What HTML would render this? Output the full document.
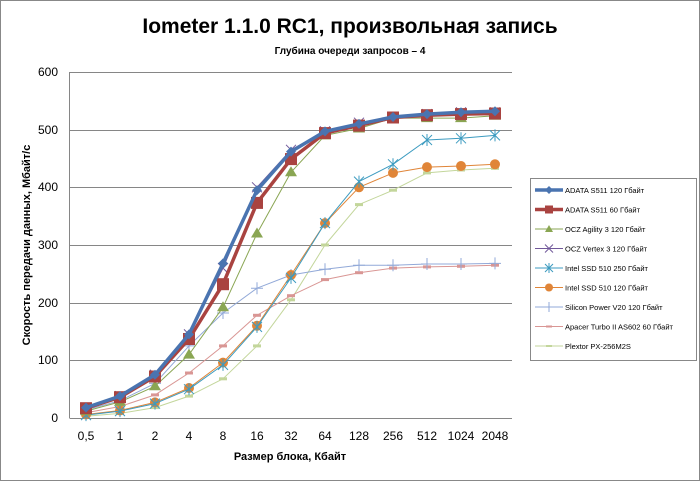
<!DOCTYPE html>
<html><head><meta charset="utf-8"><style>body{margin:0;background:#fff}svg{display:block}text{font-family:"Liberation Sans",sans-serif}</style></head><body>
<svg width="700" height="481" viewBox="0 0 700 481" xmlns="http://www.w3.org/2000/svg">
<defs>
<marker id="dia" markerUnits="userSpaceOnUse" markerWidth="12" markerHeight="12" refX="6" refY="6" overflow="visible"><path d="M6 1l5 5l-5 5l-5-5z" fill="#4a74b0"/></marker>
<marker id="sq" markerUnits="userSpaceOnUse" markerWidth="12" markerHeight="12" refX="6" refY="6" overflow="visible"><rect x="0" y="0" width="12" height="12" fill="#a94340"/></marker>
<marker id="tri" markerUnits="userSpaceOnUse" markerWidth="12" markerHeight="12" refX="6" refY="6" overflow="visible"><path d="M6 0l6 10h-12z" fill="#8aa653"/></marker>
<marker id="xx" markerUnits="userSpaceOnUse" markerWidth="12" markerHeight="12" refX="6" refY="6" overflow="visible"><path d="M1 1l10 10M11 1l-10 10" stroke="#71589a" fill="none"/></marker>
<marker id="ast" markerUnits="userSpaceOnUse" markerWidth="12" markerHeight="12" refX="6" refY="6" overflow="visible"><path d="M1 1l10 10M11 1l-10 10M6 0v12" stroke="#3c9bc0" fill="none"/></marker>
<marker id="circ" markerUnits="userSpaceOnUse" markerWidth="12" markerHeight="12" refX="6" refY="6" overflow="visible"><circle cx="6" cy="6" r="5" fill="#e08538"/></marker>
<marker id="plus" markerUnits="userSpaceOnUse" markerWidth="12" markerHeight="12" refX="6" refY="6" overflow="visible"><path d="M0 6h12M6 0v12" stroke="#92a9d8" fill="none"/></marker>
<marker id="dA" markerUnits="userSpaceOnUse" markerWidth="8" markerHeight="4" refX="4" refY="1.5" overflow="visible"><rect x="0" y="0" width="8" height="3" fill="#d99694"/></marker>
<marker id="dP" markerUnits="userSpaceOnUse" markerWidth="8" markerHeight="4" refX="4" refY="1.5" overflow="visible"><rect x="0" y="0" width="8" height="3" fill="#c3d69b"/></marker>
</defs>
<rect x="0.5" y="0.5" width="699" height="480" fill="#fff" stroke="#888"/>
<text x="350" y="33" text-anchor="middle" font-size="21" font-weight="bold">Iometer 1.1.0 RC1, произвольная запись</text>
<text x="350" y="54" text-anchor="middle" font-size="10" font-weight="bold">Глубина очереди запросов – 4</text>
<g stroke="#868686" stroke-width="1">
<line x1="69.5" y1="72.5" x2="512" y2="72.5"/><line x1="69.5" y1="130.5" x2="512" y2="130.5"/><line x1="69.5" y1="187.5" x2="512" y2="187.5"/><line x1="69.5" y1="245.5" x2="512" y2="245.5"/><line x1="69.5" y1="303.5" x2="512" y2="303.5"/><line x1="69.5" y1="360.5" x2="512" y2="360.5"/>
<line x1="69.5" y1="418.5" x2="512" y2="418.5"/><line x1="69.5" y1="72" x2="69.5" y2="418"/>
</g>
<g font-size="12" text-anchor="end"><text x="58" y="76">600</text><text x="58" y="134">500</text><text x="58" y="191">400</text><text x="58" y="249">300</text><text x="58" y="307">200</text><text x="58" y="364">100</text><text x="58" y="422">0</text></g>
<g font-size="12" text-anchor="middle"><text x="86" y="440">0,5</text><text x="120" y="440">1</text><text x="155" y="440">2</text><text x="189" y="440">4</text><text x="223" y="440">8</text><text x="257" y="440">16</text><text x="291" y="440">32</text><text x="325" y="440">64</text><text x="359" y="440">128</text><text x="393" y="440">256</text><text x="427" y="440">512</text><text x="461" y="440">1024</text><text x="495" y="440">2048</text></g>
<text x="290" y="460" text-anchor="middle" font-size="11" font-weight="bold">Размер блока, Кбайт</text>
<text transform="translate(30,245) rotate(-90)" text-anchor="middle" font-size="11" font-weight="bold">Скорость передачи данных, Мбайт/с</text>
<g fill="none" stroke-linejoin="round">
<polyline stroke="#c3d69b" stroke-width="1" marker-start="url(#dP)" marker-mid="url(#dP)" marker-end="url(#dP)" points="86,416.3 120,413.4 155,407.6 189,396.1 223,378.8 257,345.9 291,299.8 325,245 359,204.6 393,190.2 427,172.9 461,170 495,168.3"/>
<polyline stroke="#d99694" stroke-width="1" marker-start="url(#dA)" marker-mid="url(#dA)" marker-end="url(#dA)" points="86,412.8 120,406.5 155,394.9 189,373 223,345.9 257,315.3 291,295.7 325,279.6 359,272.7 393,268.1 427,266.9 461,266.3 495,265.2"/>
<polyline stroke="#92a9d8" stroke-width="1" marker-start="url(#plus)" marker-mid="url(#plus)" marker-end="url(#plus)" points="86,409.9 120,400.7 155,383.4 189,345.9 223,313 257,288.2 291,275 325,269.2 359,265.2 393,265.2 427,264 461,264 495,263.4"/>
<polyline stroke="#e08538" stroke-width="1" marker-start="url(#circ)" marker-mid="url(#circ)" marker-end="url(#circ)" points="86,414.5 120,410.5 155,402.4 189,388 223,362.6 257,325.7 291,275 325,223.1 359,187.3 393,172.9 427,167.1 461,166 495,164.3"/>
<polyline stroke="#3c9bc0" stroke-width="1" marker-start="url(#ast)" marker-mid="url(#ast)" marker-end="url(#ast)" points="86,415.1 120,411.1 155,403.6 189,389.2 223,364.9 257,326.9 291,277.9 325,223.1 359,181.6 393,164.3 427,140 461,138.3 495,135.4"/>
<polyline stroke="#71589a" stroke-width="1" marker-start="url(#xx)" marker-mid="url(#xx)" marker-end="url(#xx)" points="86,407.6 120,396.1 155,374.7 189,334.4 223,268.1 257,187.3 291,149.8 325,131.4 359,122.7 393,117 427,114.1 461,112.3 495,112.3"/>
<polyline stroke="#8aa653" stroke-width="1" marker-start="url(#tri)" marker-mid="url(#tri)" marker-end="url(#tri)" points="86,411.1 120,401.9 155,386.3 189,354.6 223,307.3 257,233.5 291,172.3 325,135.4 359,128.5 393,118.1 427,118.1 461,118.1 495,115.8"/>
<polyline stroke="#a94340" stroke-width="3.5" marker-start="url(#sq)" marker-mid="url(#sq)" marker-end="url(#sq)" points="86,408.2 120,397.2 155,376.5 189,339 223,284.2 257,202.9 291,159.1 325,133.1 359,125.6 393,117.5 427,115.2 461,114.1 495,113.5"/>
<polyline stroke="#4a74b0" stroke-width="3.5" marker-start="url(#dia)" marker-mid="url(#dia)" marker-end="url(#dia)" points="86,407.6 120,396.1 155,374.7 189,334.4 223,263.4 257,190.2 291,151.6 325,131.4 359,123.9 393,117 427,114.1 461,112.3 495,111.2"/>
</g>
<rect x="530.5" y="178.5" width="166" height="182" fill="#fff" stroke="#888"/>
<g fill="none">
<path d="M535 190H563" stroke="#4a74b0" stroke-width="3.5"/><path d="M549 186l4 4l-4 4l-4-4z" fill="#4a74b0"/>
<path d="M535 209.5H563" stroke="#a94340" stroke-width="3.5"/><rect x="545" y="205.5" width="8" height="8" fill="#a94340"/>
<path d="M535 229H563" stroke="#8aa653"/><path d="M549 225l4 7h-8z" fill="#8aa653"/>
<path d="M535 248.5H563M545 244.5l8 8M553 244.5l-8 8" stroke="#71589a"/>
<path d="M535 268H563M545 264l8 8M553 264l-8 8M549 263v10" stroke="#3c9bc0"/>
<path d="M535 287.5H563" stroke="#e08538"/><circle cx="549" cy="287.5" r="4" fill="#e08538"/>
<path d="M535 307H563M549 302v10" stroke="#92a9d8"/>
<path d="M535 326.5H563" stroke="#d99694"/><rect x="546" y="325.5" width="6" height="2" fill="#d99694"/>
<path d="M535 346H563" stroke="#c3d69b"/><rect x="546" y="345" width="6" height="2" fill="#c3d69b"/>
</g>
<g font-size="7.5">
<text x="565" y="193">ADATA  S511 120 Гбайт</text>
<text x="565" y="212.5">ADATA  S511 60 Гбайт</text>
<text x="565" y="232">OCZ Agility  3 120 Гбайт</text>
<text x="565" y="251.5">OCZ Vertex  3 120 Гбайт</text>
<text x="565" y="271">Intel  SSD 510 250 Гбайт</text>
<text x="565" y="290.5">Intel  SSD 510 120 Гбайт</text>
<text x="565" y="310">Silicon  Power  V20 120 Гбайт</text>
<text x="565" y="329.5">Apacer  Turbo II AS602 60 Гбайт</text>
<text x="565" y="349">Plextor PX-256M2S</text>
</g>
</svg>
</body></html>
